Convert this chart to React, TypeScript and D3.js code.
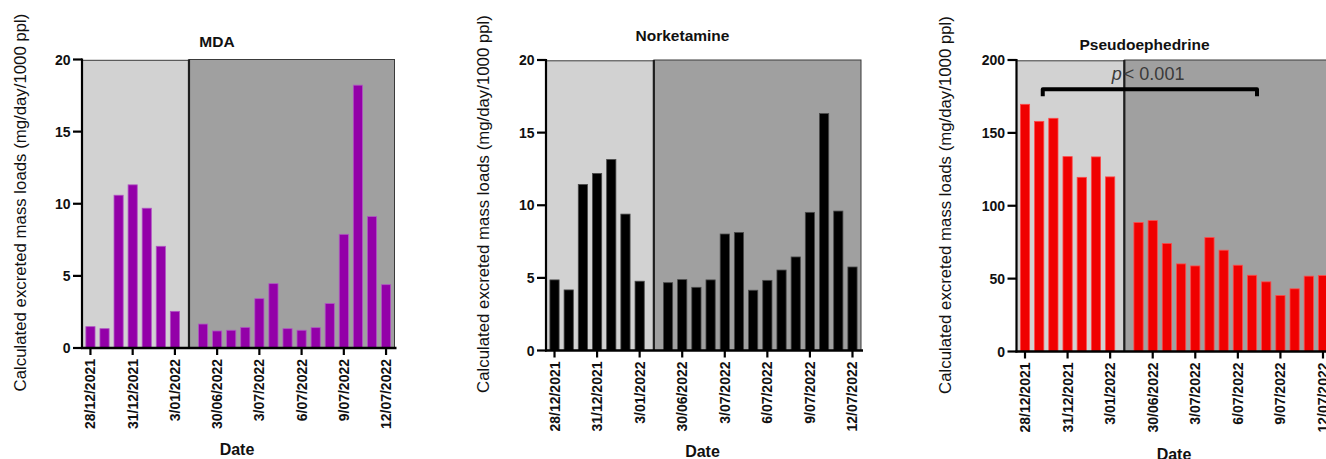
import React from 'react';
import * as d3 from 'd3';

// ---- Data ----
const dates = [
  '28/12/2021', '29/12/2021', '30/12/2021', '31/12/2021', '1/01/2022', '2/01/2022', '3/01/2022',
  '29/06/2022', '30/06/2022', '1/07/2022', '2/07/2022', '3/07/2022', '4/07/2022', '5/07/2022',
  '6/07/2022', '7/07/2022', '8/07/2022', '9/07/2022', '10/07/2022', '11/07/2022', '12/07/2022',
];
const firstPeriodCount = 7;
const tickLabels = ['28/12/2021', '31/12/2021', '3/01/2022', '30/06/2022', '3/07/2022', '6/07/2022', '9/07/2022', '12/07/2022'];

const mdaValues = [1.48, 1.34, 10.59, 11.31, 9.69, 7.05, 2.54, 1.66, 1.18, 1.23, 1.43, 3.42, 4.46, 1.34, 1.23, 1.41, 3.08, 7.88, 18.22, 9.11, 4.39];
const norketamineValues = [4.86, 4.17, 11.43, 12.19, 13.15, 9.39, 4.77, 4.67, 4.88, 4.35, 4.86, 8.02, 8.13, 4.15, 4.83, 5.54, 6.44, 9.51, 16.31, 9.6, 5.75];
const pseudoephedrineValues = [169.6, 157.9, 160.0, 133.7, 119.5, 133.5, 119.8, 88.5, 89.8, 74.1, 60.1, 58.7, 78.2, 69.5, 59.2, 52.3, 47.8, 38.4, 43.0, 51.7, 52.1];

const smallTicks = [0, 5, 10, 15, 20];
const largeTicks = [0, 50, 100, 150, 200];

const pBracket = { from: 1.25, to: 16.35, value: 180, label: '< 0.001' };

const FONT = "Arial, 'Liberation Sans', Helvetica, sans-serif";

type PanelSpec = {
  title: string;
  values: number[];
  yMax: number;
  yTicks: number[];
  fill: string;
  stroke: string;
  left: number; right: number; top: number; bottom: number;
  titleX: number; titleY: number;
  labelX: number; labelY: number;
  dateX: number; dateY: number;
  bracket?: boolean;
};

const panels: PanelSpec[] = [
  {
    title: 'MDA', values: mdaValues, yMax: 20, yTicks: smallTicks, fill: '#9300a8', stroke: '#b155c4',
    left: 82, right: 394.5, top: 59.5, bottom: 348,
    titleX: 217, titleY: 46.5, labelX: 25.5, labelY: 202.5, dateX: 237, dateY: 454.5,
  },
  {
    title: 'Norketamine', values: norketamineValues, yMax: 20, yTicks: smallTicks, fill: '#000000', stroke: '#4a4a4a',
    left: 546, right: 861, top: 60, bottom: 350.5,
    titleX: 682.5, titleY: 40.5, labelX: 489, labelY: 204, dateX: 702.5, dateY: 456.5,
  },
  {
    title: 'Pseudoephedrine', values: pseudoephedrineValues, yMax: 200, yTicks: largeTicks, fill: '#f00000', stroke: '#ff4a4a',
    left: 1016.5, right: 1331.5, top: 60, bottom: 351.5,
    titleX: 1144.5, titleY: 50, labelX: 951, labelY: 205, dateX: 1174, dateY: 460, bracket: true,
  },
];

const slotOf = (i: number) => (i < firstPeriodCount ? i : i + 1);

function Panel({ p }: { p: PanelSpec }) {
  const x = d3.scaleLinear().domain([-0.6, 21.6]).range([p.left, p.right]);
  const y = d3.scaleLinear().domain([0, p.yMax]).range([p.bottom, p.top]);
  const step = x(1) - x(0);
  const bw = step * 0.65;
  const divX = x(firstPeriodCount);
  return (
    <g>
      {/* background regions */}
      <rect x={p.left} y={p.top + 0.8} width={divX - p.left} height={p.bottom - p.top - 0.8} fill="#d2d2d2" stroke="#3a3a3a" strokeWidth={1} />
      <rect x={divX} y={p.top} width={p.right - divX} height={p.bottom - p.top} fill="#a0a0a0" stroke="#3a3a3a" strokeWidth={1} />
      <line x1={divX} x2={divX} y1={p.top} y2={p.bottom} stroke="#1e1e1e" strokeWidth={2.2} />
      {/* bars */}
      {p.values.map((v, i) => {
        const cx = x(slotOf(i));
        return (
          <rect key={i} x={cx - bw / 2} y={y(v)} width={bw} height={p.bottom - y(v)} fill={p.fill} stroke={p.stroke} strokeWidth={0.8} />
        );
      })}
      {/* axes */}
      <line x1={p.left} x2={p.left} y1={p.top - 1} y2={p.bottom + 1} stroke="#000" strokeWidth={2.2} />
      <line x1={p.left - 1} x2={p.right + 2} y1={p.bottom} y2={p.bottom} stroke="#000" strokeWidth={2.4} />
      {p.yTicks.map((t) => (
        <g key={t}>
          <line x1={p.left - 9} x2={p.left} y1={y(t)} y2={y(t)} stroke="#000" strokeWidth={2.2} />
          <text x={p.left - 11.5} y={y(t)} dy="0.36em" textAnchor="end" fontFamily={FONT} fontWeight="bold" fontSize={14} fill="#111">{t}</text>
        </g>
      ))}
      {dates.map((d, i) => {
        if (!tickLabels.includes(d)) return null;
        const cx = x(slotOf(i));
        return (
          <g key={d}>
            <line x1={cx} x2={cx} y1={p.bottom} y2={p.bottom + 7} stroke="#000" strokeWidth={2.2} />
            <text transform={`translate(${cx + 5},${p.bottom + 11}) rotate(-90)`} textAnchor="end" fontFamily={FONT} fontWeight="bold" fontSize={14} fill="#111">{d}</text>
          </g>
        );
      })}
      {/* titles */}
      <text x={p.titleX} y={p.titleY} textAnchor="middle" fontFamily={FONT} fontWeight="bold" fontSize={15.5} fill="#111">{p.title}</text>
      <text transform={`translate(${p.labelX},${p.labelY}) rotate(-90)`} textAnchor="middle" fontFamily={FONT} fontSize={16.8} fill="#111">Calculated excreted mass loads (mg/day/1000 ppl)</text>
      <text x={p.dateX} y={p.dateY} textAnchor="middle" fontFamily={FONT} fontWeight="bold" fontSize={16} fill="#111">Date</text>
      {p.bracket && (
        <g>
          <path
            d={`M${x(pBracket.from)},${y(pBracket.value) + 7} V${y(pBracket.value)} H${x(pBracket.to)} V${y(pBracket.value) + 7}`}
            fill="none" stroke="#000" strokeWidth={4} strokeLinejoin="round"
          />
          <text x={divX - 12.5} y={y(pBracket.value) - 9} fontFamily={FONT} fontSize={18} fill="#3a3a3a">
            <tspan fontStyle="italic">p</tspan>
            <tspan dx={2}>{pBracket.label}</tspan>
          </text>
        </g>
      )}
    </g>
  );
}

export default function App() {
  return (
    <svg width={1326} height={459} style={{ position: 'absolute', left: 0, top: 0, background: '#fff' }}>
      <rect x={0} y={0} width={1326} height={459} fill="#fff" />
      {panels.map((p) => (
        <Panel key={p.title} p={p} />
      ))}
    </svg>
  );
}
